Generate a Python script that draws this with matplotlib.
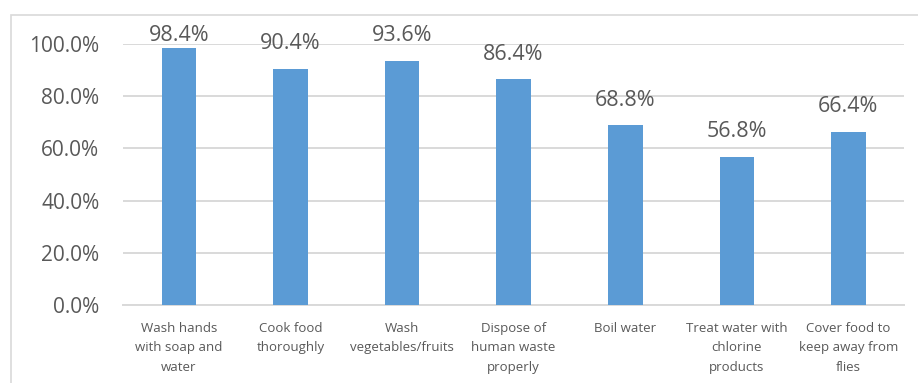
import matplotlib.pyplot as plt
from matplotlib.patches import Rectangle
from matplotlib.ticker import FuncFormatter

categories = [
    "Wash hands\nwith soap and\nwater",
    "Cook food\nthoroughly",
    "Wash\nvegetables/fruits",
    "Dispose of\nhuman waste\nproperly",
    "Boil water",
    "Treat water with\nchlorine\nproducts",
    "Cover food to\nkeep away from\nflies",
]
percentages = [98.4, 90.4, 93.6, 86.4, 68.8, 56.8, 66.4]

bar_color = "#5B9BD5"
text_color = "#595959"
grid_color = "#D9D9D9"

plt.rcParams["font.family"] = ["Open Sans", "DejaVu Sans"]

fig = plt.figure(figsize=(9.18, 3.83), dpi=100)
ax = fig.add_axes([0.134, 0.2037, 0.851, 0.6815])

# outer chart frame, running off the right and bottom edges
fig.patches.append(Rectangle((11 / 918, -0.1), 1.2, 1 - 15 / 383 + 0.1,
                             transform=fig.transFigure, fill=False,
                             edgecolor=grid_color, linewidth=1.2))

x = range(len(categories))
ax.bar(x, percentages, width=0.31, color=bar_color, zorder=3)

for xi, v in zip(x, percentages):
    ax.text(xi, min(v + 9.6, 103.4), f"{v:.1f}%", ha="center", va="center",
            fontsize=15.5, color=text_color)

ax.set_xlim(-0.5, len(categories) - 0.5)
ax.set_ylim(0, 100)
ax.set_yticks(range(0, 101, 20))
ax.yaxis.set_major_formatter(FuncFormatter(lambda v, _: f"{v:.1f}%"))
ax.set_xticks(list(x))
ax.set_xticklabels(categories, fontsize=9.5, color=text_color, linespacing=1.65)
ax.tick_params(axis="y", labelsize=15, labelcolor=text_color, length=0, pad=17)
ax.tick_params(axis="x", length=0, pad=12)

ax.grid(axis="y", color=grid_color, linewidth=1.4, zorder=0)
for side in ["top", "right", "left"]:
    ax.spines[side].set_visible(False)
ax.spines["bottom"].set_color(grid_color)
ax.spines["bottom"].set_linewidth(1.4)

fig.savefig("out.png", dpi=100)
